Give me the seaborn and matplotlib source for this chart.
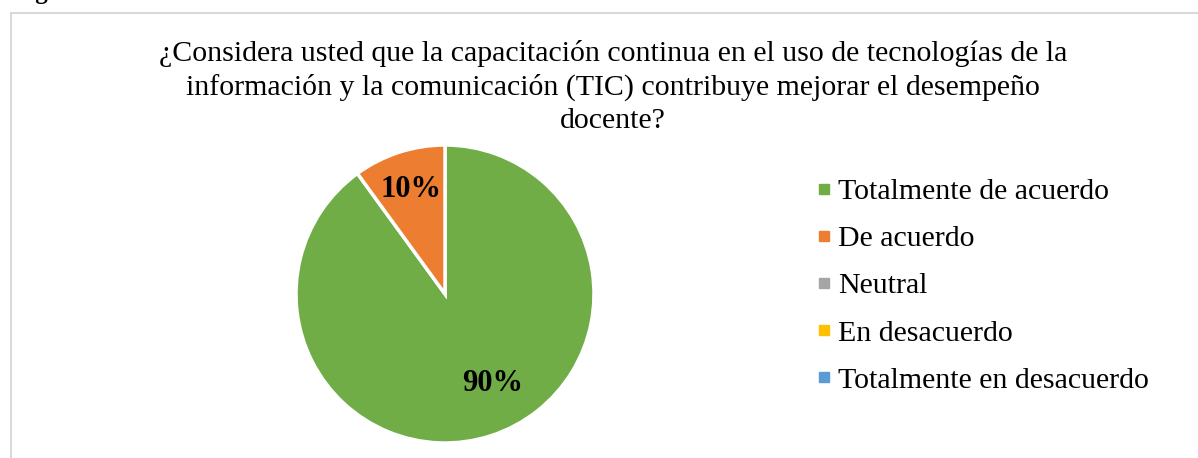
import matplotlib
matplotlib.use("Agg")
import matplotlib.pyplot as plt
from matplotlib.patches import Rectangle
from matplotlib.lines import Line2D
import seaborn as sns

# data
categories = ["Totalmente de acuerdo", "De acuerdo", "Neutral",
              "En desacuerdo", "Totalmente en desacuerdo"]
values = [90, 10, 0, 0, 0]
colors = ["#70AD47", "#ED7D31", "#A5A5A5", "#FFC000", "#5B9BD5"]
title = ("¿Considera usted que la capacitación continua en el uso de tecnologías de la\n"
         "información y la comunicación (TIC) contribuye mejorar el desempeño\n"
         "docente?")


def main():
    sns.set_theme(style="white")
    plt.rcParams["font.family"] = ["Liberation Serif", "DejaVu Serif"]
    plt.rcParams["text.color"] = "black"

    W, H = 1198, 458
    fig = plt.figure(figsize=(W / 100, H / 100), dpi=100)

    # chart border (only top and left edges visible in the crop)
    fig.add_artist(Rectangle((10.5 / W, -0.2), 1.2, 1.2 - 12.5 / H,
                             transform=fig.transFigure, fill=False,
                             edgecolor="#d9d9d9", linewidth=1.5))

    # caption cut off by the top of the image, as in the original
    fig.text(14 / W, 1.0 + 1 / H, "Figura", fontsize=18, fontweight="bold",
             ha="left", va="baseline")

    # pie axes, centred on (445, 294) px with radius 149 px
    cx, cy, r = 445, 294, 149
    ax = fig.add_axes([(cx - r) / W, (H - cy - r) / H, 2 * r / W, 2 * r / H])
    palette = sns.color_palette(colors)
    shown = [(v, c) for v, c in zip(values, palette) if v > 0]
    wedges, texts, autotexts = ax.pie(
        [v for v, _ in shown], colors=[c for _, c in shown],
        startangle=90, counterclock=False,
        autopct="%1.0f%%", pctdistance=0.74,
        wedgeprops=dict(edgecolor="white", linewidth=2.5),
        textprops=dict(fontsize=22, fontweight="bold", color="black"))
    # Excel nudged the big label a bit to the right
    autotexts[0].set_position((0.32, -0.60))
    ax.set_xlim(-1, 1)
    ax.set_ylim(-1, 1)
    ax.set_aspect("equal")
    ax.axis("off")

    fig.text(613 / W, 1 - 87 / H, title, fontsize=21.5, ha="center",
             va="center", linespacing=1.31, color="black")

    handles = [Line2D([], [], marker="s", linestyle="none", markersize=7,
                      markerfacecolor=c, markeredgecolor=c) for c in palette]
    fig.legend(handles, categories, loc="center left",
               bbox_to_anchor=(818.5 / W, 1 - 286 / H), frameon=False,
               fontsize=21.5, handlelength=0.4, handletextpad=0.25,
               labelspacing=0.68, borderpad=0, borderaxespad=0,
               labelcolor="black")

    fig.savefig("out.png", dpi=100)


if __name__ == "__main__":
    main()
